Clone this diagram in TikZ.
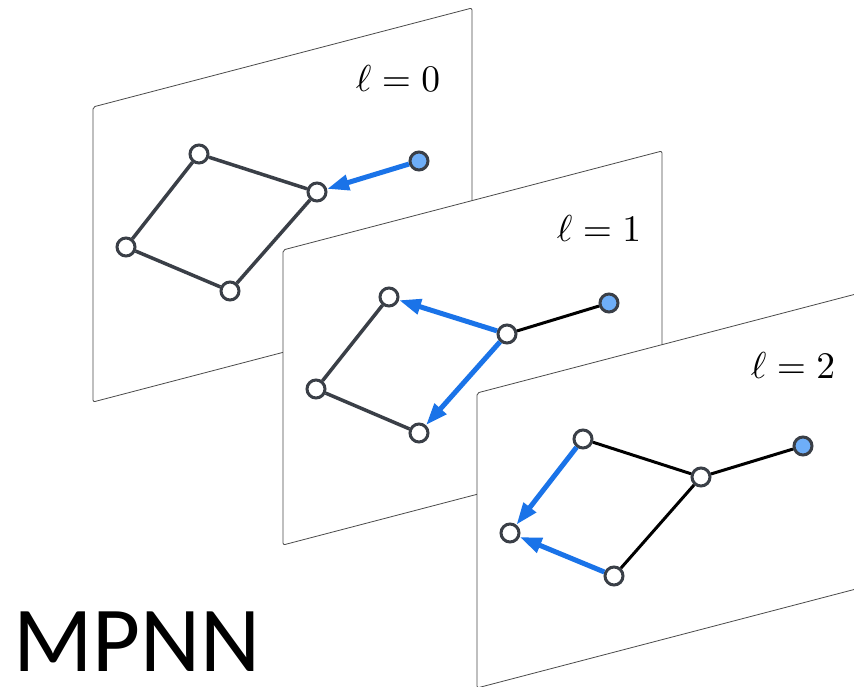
\documentclass[tikz,border=0pt]{standalone}
\usepackage{fontspec}
\newfontfamily\carlito{Carlito}
\usetikzlibrary{arrows.meta}
\definecolor{edgegray}{HTML}{3A3F47}
\definecolor{panelgray}{HTML}{4A4A4A}
\definecolor{msgblue}{HTML}{1A73E8}
\definecolor{srcblue}{HTML}{6EAEF8}
\tikzset{
  panel/.style={draw=panelgray, line width=0.8pt, fill=white, rounded corners=2pt},
  vtx/.style={circle, draw=edgegray, line width=3pt, fill=white, minimum size=18pt, inner sep=0pt},
  src/.style={vtx, fill=srcblue},
  gedge/.style={draw=edgegray, line width=3.5pt},
  bedge/.style={draw=black, line width=3pt},
  msg/.style={draw=msgblue, line width=5pt, -{Triangle[length=22pt,width=15pt]}},
  lbl/.style={scale=3.75, inner sep=0pt, anchor=base east}
}
\begin{document}
\begin{tikzpicture}[x=1pt,y=-1pt]
\useasboundingbox (0,0) rectangle (854,687);
\begin{scope}
\clip (0,0) rectangle (854,687);

% ---- layer 0
\begin{scope}[shift={(93,107)}]
\draw[panel] (0,0) -- (379,-99) -- (379,196) -- (0,295) -- cycle;
\node[vtx] (a0) at (106,47) {};
\node[vtx] (b0) at (224,85) {};
\node[vtx] (c0) at (33,140) {};
\node[vtx] (d0) at (137,184) {};
\node[src] (e0) at (326,54) {};
\end{scope}
\node[lbl] (l0) at (441,92) {$\ell = 0$};
\draw[gedge] (a0) -- (b0);
\draw[gedge] (b0) -- (d0);
\draw[gedge] (d0) -- (c0);
\draw[gedge] (c0) -- (a0);
\draw[msg] (e0) -- (b0);

% ---- layer 1
\begin{scope}[shift={(283,250)}]
\draw[panel] (0,0) -- (379,-99) -- (379,196) -- (0,295) -- cycle;
\node[vtx] (a1) at (106,47) {};
\node[vtx] (b1) at (224,84) {};
\node[vtx] (c1) at (33,139) {};
\node[vtx] (d1) at (136,183) {};
\node[src] (e1) at (326,53) {};
\end{scope}
\node[lbl] (l1) at (642,242) {$\ell = 1$};
\draw[gedge] (a1) -- (c1);
\draw[gedge] (c1) -- (d1);
\draw[bedge] (b1) -- (e1);
\draw[msg] (b1) -- (a1);
\draw[msg] (b1) -- (d1);

% ---- layer 2
\begin{scope}[shift={(477,393)}]
\draw[panel] (0,0) -- (379,-99) -- (379,196) -- (0,295) -- cycle;
\node[vtx] (a2) at (106,46) {};
\node[vtx] (b2) at (224,84) {};
\node[vtx] (c2) at (33,140) {};
\node[vtx] (d2) at (137,183) {};
\node[src] (e2) at (326,53) {};
\end{scope}
\node[lbl] (l2) at (836,378) {$\ell = 2$};
\draw[bedge] (a2) -- (b2);
\draw[bedge] (b2) -- (e2);
\draw[bedge] (b2) -- (d2);
\draw[msg] (a2) -- (c2);
\draw[msg] (d2) -- (c2);
\end{scope}

% ---- title
\node[font=\carlito\fontsize{93}{100}\selectfont, inner sep=0pt, text depth=0pt, anchor=base west] (title) at (13,671) {MPNN};
\end{tikzpicture}
\end{document}
